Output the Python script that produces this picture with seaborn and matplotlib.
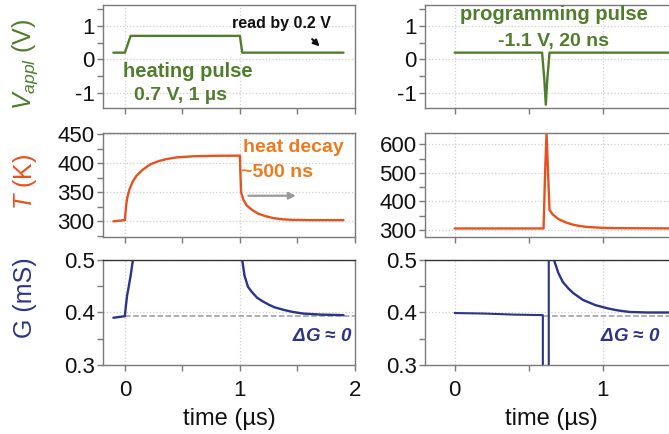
import numpy as np
import pandas as pd
import matplotlib
matplotlib.use("Agg")
import matplotlib.pyplot as plt
from matplotlib.ticker import MultipleLocator
import seaborn as sns

# ---------------- data ----------------
# left column: heating pulse
tL_V = [-0.1, 0.0, 0.05, 1.0, 1.02, 1.9]
vL_V = [0.2, 0.2, 0.7, 0.7, 0.2, 0.2]

tL_T = [-0.1, 0.0, 0.01, 0.02, 0.04, 0.07, 0.1, 0.15, 0.22, 0.3, 0.36, 0.45, 0.6, 0.8, 1.0,
        1.003, 1.01, 1.03, 1.06, 1.11, 1.16, 1.22, 1.29, 1.37, 1.45, 1.6, 1.9]
vL_T = [300, 302, 325, 340, 355, 369, 378, 388, 398, 404, 407, 410, 412, 412.8, 413,
        390, 350, 337, 327, 319, 313, 309, 305.5, 303.5, 302.5, 302, 302]

tL_G = [-0.1, 0.0, 0.01, 0.02, 0.03, 0.05, 0.07, 0.09, 1.0, 1.02, 1.04, 1.07, 1.1, 1.15,
        1.2, 1.25, 1.3, 1.38, 1.46, 1.55, 1.7, 1.9]
vL_G = [0.390, 0.393, 0.415, 0.433, 0.445, 0.47, 0.50, 0.52, 0.52, 0.50, 0.47, 0.449, 0.44, 0.428,
        0.421, 0.415, 0.41, 0.405, 0.401, 0.398, 0.396, 0.395]

# right column: programming pulse
tR_V = [0.0, 0.59, 0.605, 0.615, 0.625, 0.64, 1.5]
vR_V = [0.2, 0.2, -0.6, -1.35, -0.6, 0.2, 0.2]

tR_T = [0.0, 0.6, 0.61, 0.62, 0.63, 0.64, 0.66, 0.68, 0.7, 0.75, 0.8, 0.85, 0.9, 1.0, 1.1, 1.5]
vR_T = [305, 305, 500, 640, 500, 370, 355, 346, 338, 326, 318, 313, 310, 307, 306, 305]

tR_G1 = [0.0, 0.2, 0.4, 0.595, 0.595, 0.635, 0.635, 0.65]
vR_G1 = [0.399, 0.398, 0.396, 0.395, 0.25, 0.25, 0.60, 0.60]
tR_G2 = [0.655, 0.67, 0.7, 0.73, 0.77, 0.8, 0.865, 0.95, 1.03, 1.1, 1.18, 1.3, 1.5]
vR_G2 = [0.53, 0.50, 0.475, 0.458, 0.445, 0.437, 0.424, 0.414, 0.408, 0.404, 0.401, 0.400, 0.400]

G_ref = 0.393

# ---------------- style ----------------
sns.set_theme(style="ticks")
plt.rcParams['font.family'] = ['Liberation Sans', 'DejaVu Sans']
plt.rcParams['axes.unicode_minus'] = False
plt.rcParams['mathtext.fontset'] = 'custom'
plt.rcParams['mathtext.it'] = 'Liberation Sans:italic'
plt.rcParams['mathtext.rm'] = 'Liberation Sans'
plt.rcParams['mathtext.bf'] = 'Liberation Sans:bold:italic'

GREEN = '#4f7d2c'
ORANGE_L = '#e8511e'
ORANGE_T = '#ee7a1e'
BLUE = '#2b3486'
SPINE = '#7a7a7a'
FS = 16

fig = plt.figure(figsize=(6.69, 4.34), dpi=100)
W, H = 669, 434

def pos(x0, top, x1, bot):
    return [x0 / W, 1 - bot / H, (x1 - x0) / W, (bot - top) / H]

axL = [fig.add_axes(pos(103, 5, 355, 108)),
       fig.add_axes(pos(103, 133, 355, 237)),
       fig.add_axes(pos(103, 260, 355, 365))]
axR = [fig.add_axes(pos(425, 5, 677, 108)),
       fig.add_axes(pos(425, 133, 677, 237)),
       fig.add_axes(pos(425, 260, 677, 365))]

def style(ax, xlim, ylim, ymaj, ymin, xlabels):
    ax.set_xlim(*xlim)
    ax.set_ylim(*ylim)
    ax.xaxis.set_major_locator(MultipleLocator(1))
    ax.xaxis.set_minor_locator(MultipleLocator(0.5))
    ax.yaxis.set_major_locator(MultipleLocator(ymaj))
    ax.yaxis.set_minor_locator(MultipleLocator(ymin))
    ax.tick_params(which='both', direction='out', length=4, width=1,
                   color=SPINE, labelsize=FS, pad=2, labelcolor='#111111')
    ax.tick_params(axis='x', pad=7)
    if not xlabels:
        ax.tick_params(axis='x', labelbottom=False)
    for s in ax.spines.values():
        s.set_visible(True)
        s.set_color(SPINE)
        s.set_linewidth(1.0)
    ax.grid(True, which='major', linestyle=':', color='#cfcfcf', linewidth=0.9)
    ax.set_xlabel('')
    ax.set_ylabel('')
    ax.set_axisbelow(True)

def line(ax, t, v, color, lw=1.7):
    sns.lineplot(x=t, y=v, ax=ax, color=color, linewidth=lw, sort=False,
                 estimator=None, legend=False)

# Left column
line(axL[0], tL_V, vL_V, GREEN)
line(axL[1], tL_T, vL_T, ORANGE_L)
axL[2].axhline(G_ref, xmin=(0 + 0.19) / 2.19, xmax=1, color='#9a9a9a',
               linestyle='--', linewidth=1.1, zorder=1)
line(axL[2], tL_G, vL_G, BLUE)

style(axL[0], (-0.19, 2.0), (-1.45, 1.62), 1, 0.5, False)
style(axL[1], (-0.19, 2.0), (273, 452), 50, 25, False)
style(axL[2], (-0.19, 2.0), (0.3, 0.5), 0.1, 0.05, True)

# Right column
line(axR[0], tR_V, vR_V, GREEN)
line(axR[1], tR_T, vR_T, ORANGE_L)
axR[2].axhline(G_ref, xmin=(0.6 + 0.2) / 1.7, xmax=1, color='#9a9a9a',
               linestyle='--', linewidth=1.1, zorder=1)
line(axR[2], tR_G1, vR_G1, BLUE, lw=1.5)
line(axR[2], tR_G2, vR_G2, BLUE)

style(axR[0], (-0.2, 1.5), (-1.45, 1.62), 1, 0.5, False)
style(axR[1], (-0.2, 1.5), (275, 640), 100, 50, False)
style(axR[2], (-0.2, 1.5), (0.3, 0.5), 0.1, 0.05, True)

for ax in (axL[2], axR[2]):
    ax.spines['top'].set_color('#333333')
    ax.set_xlabel('time (\u00b5s)', fontsize=FS + 1, color='#111111', labelpad=5)

# Y labels
fig.text(25 / W, 1 - 64 / H, r'$V_{appl}$ (V)', color=GREEN, fontsize=FS + 2,
         rotation=90, ha='center', va='center')
fig.text(25 / W, 1 - 182 / H, r'$T$ (K)', color=ORANGE_L, fontsize=FS + 2,
         rotation=90, ha='center', va='center')
fig.text(25 / W, 1 - 298 / H, 'G (mS)', color=BLUE, fontsize=FS + 2,
         rotation=90, ha='center', va='center')

# Annotations
AF = 14
axL[0].text(0.93, 1.07, 'read by 0.2 V', fontsize=11.5, fontweight='bold',
            color='#111111', ha='left', va='center')
axL[0].annotate('', xy=(1.71, 0.33), xytext=(1.61, 0.66),
                arrowprops=dict(arrowstyle='-|>', color='#111111', lw=1.5,
                                mutation_scale=9))
axL[0].text(-0.02, -0.37, 'heating pulse', fontsize=AF + 0.5, fontweight='bold',
            color=GREEN, ha='left', va='center')
axL[0].text(0.48, -1.08, '0.7 V, 1 \u00b5s', fontsize=AF, fontweight='bold',
            color=GREEN, ha='center', va='center')

axR[0].text(0.67, 1.33, 'programming pulse', fontsize=AF + 0.5, fontweight='bold',
            color=GREEN, ha='center', va='center')
axR[0].text(0.67, 0.52, '-1.1 V, 20 ns', fontsize=AF, fontweight='bold',
            color=GREEN, ha='center', va='center')

axL[1].text(1.03, 427, 'heat decay', fontsize=AF, fontweight='bold',
            color=ORANGE_T, ha='left', va='center')
axL[1].text(1.01, 384, '~500 ns', fontsize=AF, fontweight='bold',
            color=ORANGE_T, ha='left', va='center')
axL[1].annotate('', xy=(1.51, 344), xytext=(1.05, 344),
                arrowprops=dict(arrowstyle='-|>', color='#9a9a9a', lw=1.6,
                                mutation_scale=10))

dg = r'$\mathbf{\Delta G}$ ' + '\u2248 0'
axL[2].text(1.98, 0.355, dg, fontsize=13.5, fontweight='bold', fontstyle='italic',
            color=BLUE, ha='right', va='center')
axR[2].text(0.98, 0.355, dg, fontsize=13.5, fontweight='bold', fontstyle='italic',
            color=BLUE, ha='left', va='center')

fig.savefig('out.png', dpi=100)
